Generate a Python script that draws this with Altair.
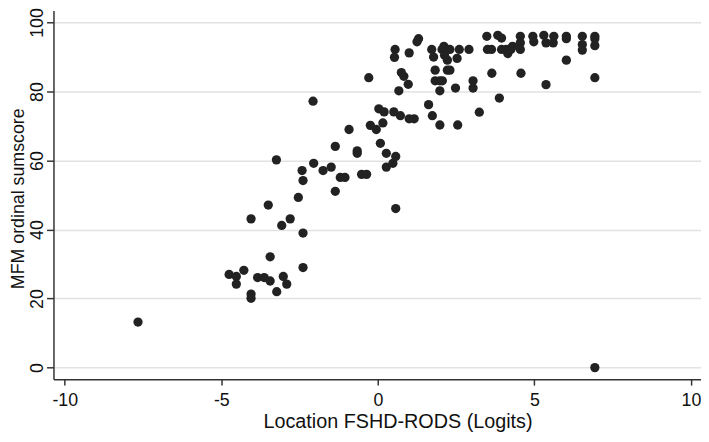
import altair as alt
import pandas as pd

# Location FSHD-RODS (logits)
loc = [
    -7.66, -4.75, -4.52, -4.52, -4.28, -4.05, -4.05, -4.05, -3.84, -3.63,
    -3.50, -3.44, -3.44, -3.24, -3.23, -3.07, -3.02, -2.91, -2.80, -2.54,
    -2.42, -2.39, -2.39, -2.39, -2.07, -2.05, -1.75, -1.49, -1.36, -1.36,
    -1.20, -1.05, -0.92, -0.66, -0.66, -0.52, -0.36, -0.29, -0.24, -0.05,
    0.03, 0.08, 0.16, 0.20, 0.27, 0.27, 0.48, 0.51, 0.57, 0.57,
    0.72, 0.55, 0.53, 0.67, 0.75, 0.83, 0.97, 1.00, 1.00, 1.16,
    1.25, 1.30, 1.62, 1.72, 1.74, 1.78, 1.83, 1.83, 1.98, 2.06,
    1.98, 1.98, 2.05, 2.11, 2.13, 2.22, 2.22, 2.30, 2.30, 2.48,
    2.53, 2.55, 2.60, 2.91, 3.04, 3.04, 3.24, 3.48, 3.50, 3.63,
    3.64, 3.83, 3.95, 3.88, 3.95, 4.10, 4.15, 4.30, 4.25, 4.55,
    4.55, 4.55, 4.57, 4.95, 4.98, 5.30, 5.37, 5.37, 5.62, 5.60,
    6.02, 6.02, 6.02, 6.53, 6.53, 6.53, 6.93, 6.93, 6.93, 6.93,
    6.93,
]
# MFM ordinal sumscore
mfm = [
    13.2, 27.0, 26.4, 24.2, 28.2, 21.3, 20.1, 43.1, 26.1, 26.1,
    47.1, 32.1, 25.1, 60.2, 22.0, 41.2, 26.4, 24.2, 43.1, 49.3,
    57.1, 54.2, 39.0, 29.0, 77.2, 59.2, 57.1, 58.1, 64.1, 51.1,
    55.1, 55.1, 69.0, 62.8, 62.1, 56.0, 56.0, 84.0, 70.2, 69.0,
    75.0, 65.0, 70.9, 74.1, 62.1, 58.1, 59.2, 74.1, 61.2, 46.1,
    73.0, 92.2, 89.9, 80.2, 85.5, 84.4, 82.1, 91.2, 72.1, 72.1,
    94.4, 95.3, 76.2, 92.2, 73.0, 90.0, 86.2, 83.1, 83.1, 83.1,
    80.2, 70.3, 92.2, 93.1, 90.5, 89.1, 86.2, 86.2, 92.2, 81.0,
    89.6, 70.3, 92.2, 92.2, 83.1, 81.0, 74.0, 96.0, 92.2, 92.2,
    85.3, 96.3, 95.5, 78.1, 92.2, 92.2, 91.0, 93.1, 92.2, 96.0,
    94.1, 92.2, 85.3, 96.0, 94.4, 96.3, 94.1, 82.0, 96.0, 94.1,
    96.0, 95.3, 89.1, 96.0, 93.6, 92.0, 96.0, 95.3, 93.3, 84.0,
    0.0,
]

x_ticks = [-10, -5, 0, 5, 10]
y_ticks = [0, 20, 40, 60, 80, 100]

df = pd.DataFrame({"loc": loc, "mfm": mfm})

FONT = "Liberation Sans"
AXIS_COL = "#333333"

chart = (
    alt.Chart(df)
    .mark_circle(size=88, color="#222222", opacity=1)
    .encode(
        x=alt.X(
            "loc:Q",
            scale=alt.Scale(domain=[-10.36, 10.32], nice=False, zero=False),
            axis=alt.Axis(
                title="Location FSHD-RODS (Logits)",
                values=x_ticks,
                labelExpr="'' + datum.value",
                grid=False,
                tickSize=6,
                tickWidth=1.5,
                tickColor=AXIS_COL,
                domainColor=AXIS_COL,
                domainWidth=1.5,
                labelFont=FONT,
                labelFontSize=18,
                labelColor="#111111",
                labelBaseline="alphabetic",
                labelPadding=21,
                labelFlush=False,
                labelOverlap=False,
                titleFont=FONT,
                titleFontSize=20,
                titleFontWeight="normal",
                titleColor="#111111",
                titleBaseline="alphabetic",
                titleAlign="center",
                titleX=348,
                titleY=49,
            ),
        ),
        y=alt.Y(
            "mfm:Q",
            scale=alt.Scale(domain=[-3.35, 103.5], nice=False, zero=False),
            axis=alt.Axis(
                title="MFM ordinal sumscore",
                values=y_ticks,
                grid=True,
                gridColor="#e2e2e2",
                gridWidth=1.5,
                tickSize=7,
                tickWidth=1.5,
                tickColor=AXIS_COL,
                domainColor=AXIS_COL,
                domainWidth=1.5,
                labelFont=FONT,
                labelFontSize=18,
                labelColor="#111111",
                labelAngle=-90,
                labelAlign="center",
                labelBaseline="alphabetic",
                labelPadding=4,
                labelFlush=False,
                labelOverlap=False,
                titleFont=FONT,
                titleFontSize=18,
                titleFontWeight="normal",
                titleColor="#111111",
                titleAngle=-90,
                titleBaseline="alphabetic",
                titleAlign="center",
                titleX=-30,
                titleY=190,
            ),
        ),
    )
    .properties(
        width=655,
        height=373,
        autosize=alt.AutoSizeParams(type="none"),
        padding={"left": 46, "top": 0, "right": 0, "bottom": 53},
        background="white",
    )
    .configure_view(stroke=None)
)

chart.save("out.html", embed_options={"renderer": "svg", "actions": False})
